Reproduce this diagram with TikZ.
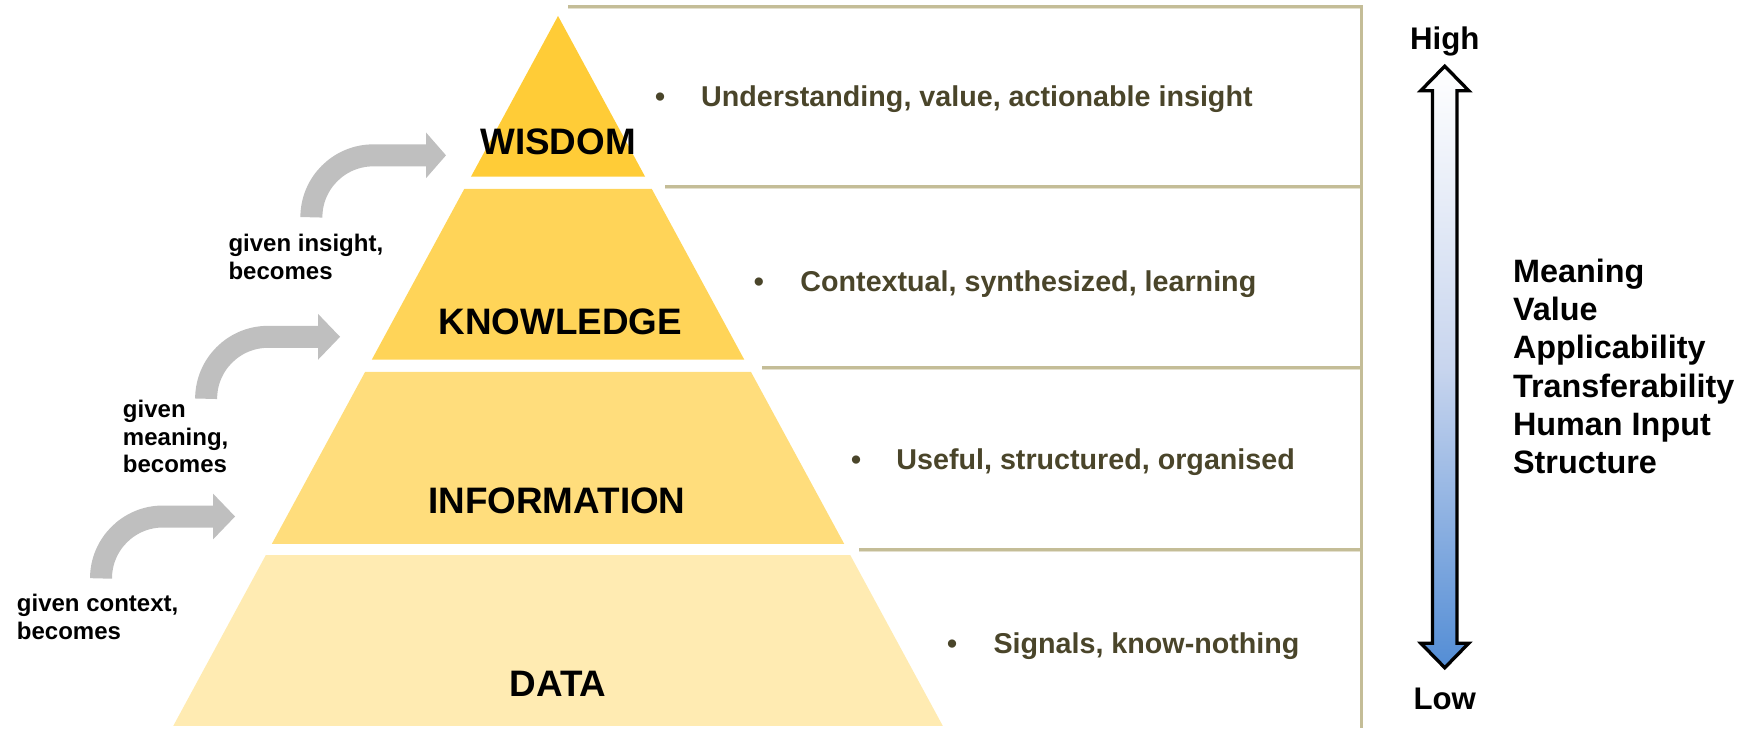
\documentclass[tikz,border=0pt]{standalone}
\usepackage{fontspec}
\setmainfont{Liberation Sans}
\usetikzlibrary{calc}
\definecolor{wiscol}{RGB}{255,204,55}
\definecolor{knocol}{RGB}{255,212,88}
\definecolor{infcol}{RGB}{255,221,124}
\definecolor{datcol}{RGB}{255,235,178}
\definecolor{guidecol}{RGB}{196,189,151}
\definecolor{guideshadow}{RGB}{228,224,206}
\definecolor{olivetext}{RGB}{74,69,42}
\definecolor{arrowgray}{RGB}{191,191,191}
\definecolor{arrowblue}{RGB}{83,141,213}
\definecolor{arrowmid}{RGB}{200,213,238}
\begin{document}
\begin{tikzpicture}[x=1pt,y=1pt,
  tierlabel/.style={font=\fontsize{33}{40}\selectfont\bfseries, anchor=base, inner sep=0pt},
  bullettext/.style={font=\fontsize{25.7}{30}\selectfont\bfseries, text=olivetext, anchor=base west, inner sep=0pt},
  bulletmark/.style={font=\fontsize{25.7}{30}\selectfont\bfseries, text=olivetext, anchor=base, inner sep=0pt},
  steplabel/.style={font=\fontsize{21.5}{25}\selectfont\bfseries, align=left, anchor=base west, inner sep=0pt},
  scalelabel/.style={font=\fontsize{28}{34}\selectfont\bfseries, anchor=base, inner sep=0pt},
  attrlabel/.style={font=\fontsize{29}{34.4}\selectfont\bfseries, align=left, anchor=base west, inner sep=0pt},
  guide/.style={draw=guidecol, line width=2.2pt},
  guideshade/.style={draw=guideshadow, line width=1.2pt},
  grayshaft/.style={draw=arrowgray, line width=19.7pt},
  grayhead/.style={fill=arrowgray}
]
\useasboundingbox (0,0) rectangle (1568,652.3);

% pyramid tiers
\fill[wiscol] (500,638) -- (578,494) -- (422,494) -- cycle;
\fill[knocol] (416,483) -- (584,483) -- (666.9,330) -- (333.1,330) -- cycle;
\fill[infcol] (327.1,319) -- (672.9,319) -- (756.4,165) -- (243.6,165) -- cycle;
\fill[datcol] (238.2,155) -- (761.8,155) -- (844.7,2) -- (155.3,2) -- cycle;

\node[tierlabel] (wisdom) at (500,513.5) {WISDOM};
\node[tierlabel] (knowledge) at (502,352.5) {KNOWLEDGE};
\node[tierlabel] (information) at (499,192.5) {INFORMATION};
\node[tierlabel] (data) at (500,28.5) {DATA};

% guide lines
\coordinate (g0) at (509,646.6);
\coordinate (gc) at (1220,646.6);
\coordinate (gb) at (1220,0);
\coordinate (g1) at (596,485);
\coordinate (g2) at (683,323);
\coordinate (g3) at (770,160);
\draw[guideshade] ($(g0)+(0,-1.6)$) -- ($(gc)+(0,-1.6)$);
\draw[guideshade] ($(g1)+(0,-1.6)$) -- ($(g1 -| gc)+(0,-1.6)$);
\draw[guideshade] ($(g2)+(0,-1.6)$) -- ($(g2 -| gc)+(0,-1.6)$);
\draw[guideshade] ($(g3)+(0,-1.6)$) -- ($(g3 -| gc)+(0,-1.6)$);
\draw[guide] (g0) -- (gc) -- (gb);
\draw[guide] (g1) -- (g1 -| gc);
\draw[guide] (g2) -- (g2 -| gc);
\draw[guide] (g3) -- (g3 -| gc);

% bullet descriptions
\node[bulletmark] (b1) at (591.4,557) {•};
\node[bullettext] (t1) at (628,557) {Understanding, value, actionable insight};
\node[bulletmark] (b2) at (680,391) {•};
\node[bullettext] (t2) at (717,391) {Contextual, synthesized, learning};
\node[bulletmark] (b3) at (767,232) {•};
\node[bullettext] (t3) at (803,232) {Useful, structured, organised};
\node[bulletmark] (b4) at (853,67) {•};
\node[bullettext] (t4) at (890,67) {Signals, know-nothing};

% gray curved arrows
\coordinate (a1s) at (279,457.6);
\coordinate (a1b) at (382.7,513.1);
\coordinate (a1t) at (399.6,513.1);
\draw[grayshaft] (a1s) arc[start angle=180, end angle=90, radius=55.5] -- (a1b);
\fill[grayhead] ($(a1b)+(-1,20.5)$) -- (a1t) -- ($(a1b)+(-1,-20.5)$) -- cycle;

\coordinate (a2s) at (184.7,295);
\coordinate (a2b) at (286,350.5);
\coordinate (a2t) at (304.7,350.5);
\draw[grayshaft] (a2s) arc[start angle=180, end angle=90, radius=55.5] -- (a2b);
\fill[grayhead] ($(a2b)+(-1,20.5)$) -- (a2t) -- ($(a2b)+(-1,-20.5)$) -- cycle;

\coordinate (a3s) at (90.5,134);
\coordinate (a3b) at (191.9,189.5);
\coordinate (a3t) at (210.6,189.5);
\draw[grayshaft] (a3s) arc[start angle=180, end angle=90, radius=55.5] -- (a3b);
\fill[grayhead] ($(a3b)+(-1,20.5)$) -- (a3t) -- ($(a3b)+(-1,-20.5)$) -- cycle;

% multi-line nodes: base anchor sits on the last line
\node[steplabel] (s1) at (204.6,402) {given insight,\\becomes};
\node[steplabel] (s2) at (110,228.5) {given\\meaning,\\becomes};
\node[steplabel] (s3) at (15,79.1) {given context,\\becomes};

% scale arrow
\path[draw=black, line width=3pt, line join=miter, top color=white, bottom color=arrowblue, middle color=arrowmid]
  (1294.5,593) -- (1316,571) -- (1305.5,571) -- (1305.5,76) -- (1316,76) -- (1294.5,54)
  -- (1273,76) -- (1283.5,76) -- (1283.5,571) -- (1273,571) -- cycle;
\node[scalelabel] (high) at (1294.5,608) {High};
\node[scalelabel] (low) at (1294.5,17) {Low};

\node[attrlabel] (attrs) at (1355.5,227.6) {Meaning\\Value\\Applicability\\Transferability\\Human Input\\Structure};
\end{tikzpicture}
\end{document}
